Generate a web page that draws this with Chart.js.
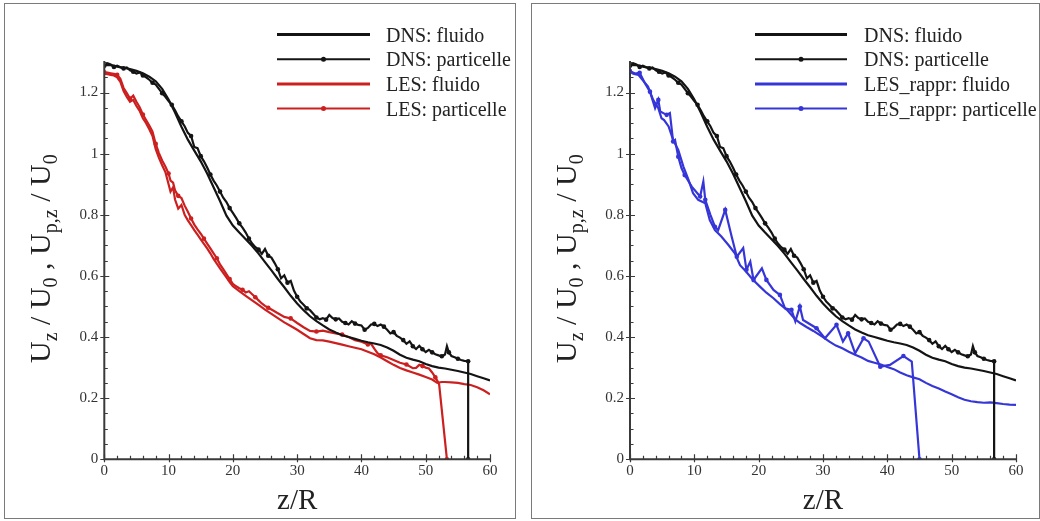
<!DOCTYPE html>
<html>
<head>
<meta charset="utf-8">
<script src="https://cdn.jsdelivr.net/npm/chart.js@4.4.1/dist/chart.umd.min.js"></script>
<style>
  html, body { margin: 0; padding: 0; background: #fff; width: 1040px; height: 521px; overflow: hidden; }
  .panel { position: absolute; top: 3px; border: 1px solid #7a7a7a; background: #fff; }
  #pl { left: 4px; width: 510px; height: 514px; }
  #pr { left: 531px; width: 507px; height: 514px; }
  canvas { display: block; }
</style>
</head>
<body>
<div class="panel" id="pl"><canvas id="cl" width="510" height="514"></canvas></div>
<div class="panel" id="pr"><canvas id="cr" width="507" height="514"></canvas></div>
<script>
'use strict';
/* ── data ─────────────────────────────────────────────────────────────── */
const dnsFluidZ = [0,1,2,3,4,5,6,7,8,9,10,11,12,13,14,15,16,17,18,19,20,21,22,23,24,25,26,27,28,29,30,
  31,32,33,34,35,36,37,38,39,40,41,42,43,44,45,46,47,48,49,50,51,52,53,54,55,56,57,58,59,60];
const dnsFluidU = [1.29,1.29,1.285,1.281,1.277,1.271,1.263,1.252,1.237,1.212,1.177,1.135,1.088,1.046,1.01,0.975,
  0.935,0.89,0.845,0.797,0.765,0.742,0.72,0.698,0.673,0.645,0.618,0.59,0.563,0.535,0.51,0.488,0.468,0.452,0.438,
  0.425,0.415,0.406,0.4,0.394,0.388,0.383,0.379,0.374,0.366,0.355,0.342,0.332,0.326,0.321,0.312,0.305,0.3,0.297,
  0.293,0.289,0.284,0.279,0.272,0.265,0.258];

const dnsPartZ = [0,0.5,1,1.5,2,2.5,3,3.5,4,4.5,5,5.5,6,6.5,7,7.5,8,8.5,9,9.5,10,10.5,11,11.5,12,12.5,13,13.5,
  14,14.5,15,15.5,16,16.5,17,17.5,18,18.5,19,19.5,20,20.5,21,21.5,22,22.5,23,23.5,24,24.5,25,25.5,26,26.5,27,27.5,
  28,28.5,29,29.5,30,30.5,31,31.5,32,32.5,33,33.5,34,34.5,35,35.5,36,36.5,37,37.5,38,38.5,39,39.5,40,40.5,41,41.5,
  42,42.5,43,43.5,44,44.5,45,45.5,46,46.5,47,47.5,48,48.5,49,49.5,50,50.5,51,51.5,52,52.5,53,53.3,53.6,54,54.5,55,
  55.5,56,56.6,56.6];
const dnsPartU = [1.288,1.296,1.292,1.284,1.288,1.283,1.279,1.282,1.273,1.268,1.262,1.266,1.256,1.25,1.242,1.232,
  1.226,1.212,1.198,1.186,1.172,1.16,1.142,1.122,1.106,1.09,1.068,1.058,1.022,1.018,0.992,0.975,0.955,0.932,0.912,
  0.896,0.876,0.856,0.842,0.822,0.806,0.79,0.772,0.758,0.742,0.722,0.706,0.694,0.686,0.672,0.688,0.666,0.66,0.642,
  0.622,0.592,0.602,0.578,0.584,0.552,0.532,0.516,0.506,0.494,0.488,0.476,0.464,0.458,0.462,0.457,0.472,0.462,0.458,
  0.461,0.45,0.446,0.441,0.452,0.444,0.44,0.438,0.424,0.43,0.441,0.443,0.436,0.441,0.434,0.424,0.412,0.416,0.404,
  0.398,0.39,0.378,0.386,0.37,0.361,0.371,0.36,0.351,0.358,0.35,0.344,0.34,0.337,0.343,0.37,0.35,0.338,0.334,0.329,
  0.325,0.322,0.321,0];

const lesFluidZ = [0,0.5,1,1.5,2,2.5,3,3.5,4,4.5,5,5.5,6,6.5,7,7.5,8,8.5,9,9.5,10,10.3,10.7,11,11.5,12,12.5,13,13.5,
  14,14.5,15,15.5,16,16.5,17,17.5,18,18.5,19,19.5,20,21,22,23,24,25,26,27,28,29,30,31,32,33,34,35,36,37,38,39,40,
  41,42,43,44,45,46,47,48,49,50,51,51.8,52.5,53,54,55,56,57,58,59,60];
const lesFluidU = [1.262,1.26,1.258,1.256,1.25,1.235,1.205,1.186,1.17,1.176,1.156,1.14,1.116,1.1,1.08,1.058,1.015,
  0.986,0.962,0.94,0.9,0.876,0.89,0.85,0.82,0.832,0.8,0.782,0.766,0.75,0.735,0.72,0.705,0.69,0.674,0.656,0.64,0.625,
  0.61,0.595,0.58,0.566,0.55,0.535,0.52,0.505,0.49,0.476,0.462,0.448,0.436,0.424,0.41,0.396,0.39,0.389,0.385,0.38,
  0.375,0.37,0.365,0.36,0.352,0.344,0.333,0.321,0.309,0.299,0.291,0.284,0.277,0.269,0.261,0.25,0.253,0.253,0.252,
  0.25,0.246,0.243,0.236,0.226,0.213];

const lesPartZ = [0,0.5,1,1.5,2,2.5,3,3.5,4,4.5,5,5.5,6,6.5,7,7.5,8,8.5,9,9.5,10,10.3,10.7,11,11.5,12,12.5,13,13.5,
  14,14.5,15,15.5,16,16.5,17,17.5,18,18.5,19,19.5,20,20.5,21,21.5,22,22.5,23,23.5,24,24.5,25,25.5,26,27,28,29,30,
  31,32,33,34,35,36,37,38,39,40,41,41.5,42,42.5,43,44,45,46,47,48,48.5,49,49.5,50,50.5,51,51.5,52,52.1,53.3];
const lesPartU = [1.266,1.265,1.263,1.261,1.258,1.245,1.215,1.198,1.18,1.19,1.17,1.152,1.128,1.11,1.092,1.072,1.032,
  1.002,0.978,0.958,0.935,0.912,0.905,0.88,0.862,0.855,0.83,0.81,0.788,0.768,0.752,0.738,0.722,0.706,0.69,0.674,
  0.658,0.638,0.622,0.606,0.59,0.574,0.566,0.56,0.555,0.546,0.55,0.54,0.53,0.52,0.51,0.502,0.496,0.49,0.478,0.466,
  0.461,0.446,0.432,0.42,0.418,0.421,0.416,0.412,0.408,0.4,0.39,0.385,0.376,0.378,0.362,0.347,0.34,0.334,0.325,
  0.316,0.31,0.298,0.299,0.309,0.305,0.3,0.297,0.284,0.268,0.25,0.243,0];

const raprFluidZ = [0,0.5,1.3,2,2.8,3.6,4.4,4.9,5.3,6,6.7,7.5,8.3,9.1,9.8,10.6,11.7,12.4,13.2,14.2,15.3,16.3,17.1,
  18,19,20.2,21.2,22.3,23.3,24.4,25.7,26.5,27.5,28.5,30,31,32,33,34,35,36,37,38,39,40,41,42,43,44,45,46,47,48,49,
  50,51,52,53,54,55,56,57,58,59,60];
const raprFluidU = [1.268,1.262,1.258,1.24,1.22,1.176,1.149,1.116,1.11,1.089,1.045,1.012,0.958,0.914,0.871,0.849,
  0.838,0.783,0.75,0.729,0.701,0.674,0.635,0.615,0.59,0.565,0.545,0.527,0.508,0.489,0.458,0.445,0.432,0.42,0.4,
  0.385,0.372,0.363,0.352,0.342,0.333,0.322,0.316,0.31,0.302,0.295,0.284,0.275,0.268,0.262,0.25,0.24,0.232,0.222,
  0.213,0.203,0.195,0.19,0.187,0.185,0.186,0.184,0.181,0.179,0.178];

const raprPartZ = [0,0.8,1.5,2.3,3.1,3.9,4.4,4.7,5.7,6.2,6.7,7,7.5,8,8.5,9.6,10.9,11.4,11.7,12.5,13.2,13.7,14.8,
  15.8,16.6,17.6,18.1,18.7,19.2,20.5,21.2,22.3,23.3,24.1,25.1,25.7,26.4,26.9,29,30.3,32.1,33.1,33.9,35,36.3,37.1,
  38.9,40.4,42.5,43.8,45];
const raprPartU = [1.27,1.262,1.265,1.231,1.203,1.149,1.176,1.138,1.127,1.133,1.04,1.045,0.99,0.953,0.93,0.892,
  0.86,0.909,0.849,0.8,0.761,0.75,0.816,0.729,0.663,0.691,0.62,0.647,0.587,0.625,0.587,0.554,0.538,0.494,0.489,
  0.451,0.5,0.456,0.429,0.396,0.44,0.385,0.412,0.347,0.396,0.385,0.303,0.309,0.338,0.32,0];

const xTicks = [0, 10, 20, 30, 40, 50, 60];
const yTicks = [0, 0.2, 0.4, 0.6, 0.8, 1, 1.2];
const legendLeft  = ['DNS: fluido', 'DNS: particelle', 'LES: fluido', 'LES: particelle'];
const legendRight = ['DNS: fluido', 'DNS: particelle', 'LES_rappr: fluido', 'LES_rappr: particelle'];

/* ── helpers ──────────────────────────────────────────────────────────── */
const SERIF = "'Liberation Serif', 'Times New Roman', serif";
const BLACK = '#141414', RED = '#cc2020', BLUE = '#3636d8', AXIS = '#3a3a3a', TXT = '#222';

function pts(zs, us) { return zs.map((z, i) => ({ x: z, y: us[i] })); }

function series(label, zs, us, color, every) {
  return {
    label, data: pts(zs, us), borderColor: color, backgroundColor: color,
    borderWidth: 2.2, tension: 0, pointHoverRadius: 0, pointBorderWidth: 0,
    pointRadius: every ? c => (c.dataIndex % every === 0 || c.dataIndex === zs.length - 1 ? 2.3 : 0) : 0
  };
}

function drawYTitle(ctx, x, y) {
  const parts = [['U',0],['z',1],[' / U',0],['0',1],[' , U',0],['p,z',1],[' / U',0],['0',1]];
  const big = '30px ' + SERIF, small = '20px ' + SERIF;
  let total = 0;
  parts.forEach(([t, s]) => { ctx.font = s ? small : big; total += ctx.measureText(t).width; });
  ctx.save();
  ctx.translate(x, y); ctx.rotate(-Math.PI / 2);
  ctx.fillStyle = TXT; ctx.textBaseline = 'alphabetic'; ctx.textAlign = 'left';
  let cx = -total / 2;
  parts.forEach(([t, s]) => {
    ctx.font = s ? small : big;
    ctx.fillText(t, cx, s ? 7 : 0);
    cx += ctx.measureText(t).width;
  });
  ctx.restore();
}

function decor(names, colors, lx) {
  return {
    id: 'decor',
    afterDraw(chart) {
      const { ctx, chartArea: a, scales: { x, y } } = chart;
      ctx.save();
      // axes
      ctx.strokeStyle = AXIS; ctx.lineWidth = 2; ctx.lineCap = 'square';
      ctx.beginPath();
      ctx.moveTo(a.left, y.getPixelForValue(1.3)); ctx.lineTo(a.left, a.bottom); ctx.lineTo(a.right, a.bottom);
      ctx.stroke();
      ctx.lineWidth = 1.2; ctx.lineCap = 'butt';
      ctx.beginPath();
      for (let k = 0; k <= 26; k++) {
        const py = Math.round(y.getPixelForValue(k * 0.05)) + 0.5;
        if (k % 4 === 0) { ctx.moveTo(a.left - 4, py); ctx.lineTo(a.left + 5, py); }
        else { ctx.moveTo(a.left, py); ctx.lineTo(a.left + 3.5, py); }
      }
      for (let k = 0; k <= 30; k++) {
        const px = Math.round(x.getPixelForValue(k * 2)) + 0.5;
        if (k % 5 === 0) { ctx.moveTo(px, a.bottom + 3); ctx.lineTo(px, a.bottom - 5); }
        else { ctx.moveTo(px, a.bottom); ctx.lineTo(px, a.bottom - 3.5); }
      }
      ctx.stroke();
      // titles
      ctx.fillStyle = TXT; ctx.font = '29px ' + SERIF; ctx.textAlign = 'center'; ctx.textBaseline = 'alphabetic';
      ctx.fillText('z/R', (a.left + a.right) / 2, 505);
      drawYTitle(ctx, a.left - 54, (a.top + a.bottom) / 2 - 2);
      // legend
      names.forEach((n, i) => {
        const ly = 30.5 + i * 24.7;
        ctx.strokeStyle = colors[i]; ctx.lineWidth = i % 2 ? 2 : 3;
        ctx.beginPath(); ctx.moveTo(lx[0], ly); ctx.lineTo(lx[1], ly); ctx.stroke();
        if (i % 2) {
          ctx.fillStyle = colors[i];
          ctx.beginPath(); ctx.arc((lx[0] + lx[1]) / 2, ly, 2.5, 0, Math.PI * 2); ctx.fill();
        }
        ctx.fillStyle = TXT; ctx.font = '20px ' + SERIF; ctx.textAlign = 'left';
        ctx.fillText(n, lx[2], ly + 7);
      });
      ctx.restore();
    }
  };
}

function makeChart(id, les, names, lesColor, yw, padRight, lx) {
  const font = { family: SERIF, size: 15 };
  return new Chart(document.getElementById(id), {
    type: 'line',
    data: {
      datasets: [
        series(names[0], dnsFluidZ, dnsFluidU, BLACK, 0),
        series(names[1], dnsPartZ, dnsPartU, BLACK, 3),
        series(names[2], les[0], les[1], lesColor, 0),
        series(names[3], les[2], les[3], lesColor, les[4])
      ]
    },
    options: {
      responsive: false, animation: false, devicePixelRatio: 1,
      layout: { padding: { top: 58, right: padRight, bottom: 0, left: 0 } },
      plugins: { legend: { display: false }, tooltip: { enabled: false } },
      scales: {
        x: {
          type: 'linear', min: 0, max: 60,
          afterFit: s => { s.height = 58.7; },
          afterBuildTicks: s => { s.ticks = xTicks.map(v => ({ value: v })); },
          ticks: { padding: 3, font, color: '#333', maxRotation: 0, callback: v => String(v) },
          grid: { display: false, drawTicks: false }, border: { display: false }
        },
        y: {
          min: 0, max: 1.3,
          afterFit: s => { s.width = yw; },
          afterBuildTicks: s => { s.ticks = yTicks.map(v => ({ value: v })); },
          ticks: { padding: 6, font, color: '#333', callback: v => String(Math.round(v * 10) / 10) },
          grid: { display: false, drawTicks: false }, border: { display: false }
        }
      }
    },
    plugins: [decor(names, [BLACK, BLACK, lesColor, lesColor], lx)]
  });
}

makeChart('cl', [lesFluidZ, lesFluidU, lesPartZ, lesPartU, 4], legendLeft, RED, 99.3, 25, [272, 365, 381]);
makeChart('cr', [raprFluidZ, raprFluidU, raprPartZ, raprPartU, 2], legendRight, BLUE, 98, 23, [223, 315, 332]);
</script>
</body>
</html>
